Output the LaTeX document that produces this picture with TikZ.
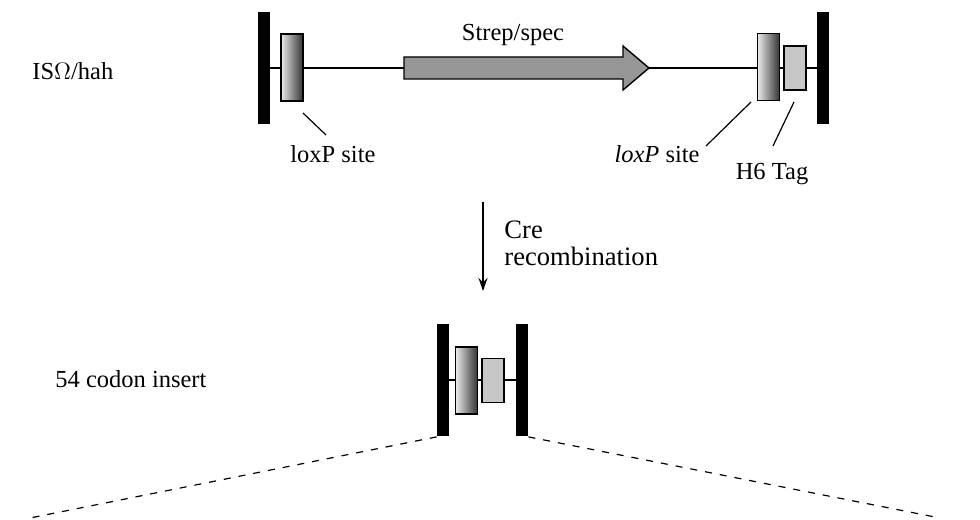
\documentclass[tikz,border=0pt]{standalone}
\usepackage{fontspec}
\setmainfont{Liberation Serif}
\usetikzlibrary{arrows.meta}
\begin{document}
\begin{tikzpicture}[x=0.5bp,y=-0.5bp,
  lbl/.style={inner sep=0pt,font=\fontsize{12.25bp}{14bp}\selectfont},
  biglbl/.style={inner sep=0pt,font=\fontsize{13.3bp}{15bp}\selectfont},
  endbar/.style={fill=black,draw=none,inner sep=0pt,minimum width=6bp,minimum height=56bp},
  loxbox/.style={draw=black,line width=0.7bp,inner sep=0pt,minimum width=11bp,minimum height=33.5bp,left color=black!8,right color=black!80},
  tagbox/.style={draw=black,line width=0.7bp,inner sep=0pt,minimum width=11bp,minimum height=22bp,fill=black!22},
  dna/.style={line width=1bp},
  leader/.style={line width=0.6bp},
  dsh/.style={line width=0.6bp,dash pattern=on 3.5bp off 4bp}]
\useasboundingbox (0,0) rectangle (980,520);
% top construct
\node[endbar] (lbar) at (264,68) {};
\node[endbar] (rbar) at (823,68) {};
\draw[dna] (lbar.center) -- (rbar.center);
\node[loxbox] (lox1) at (292,67.5) {};
\node[loxbox] (lox2) at (768.5,67) {};
\node[tagbox] (tag1) at (795,68) {};
\draw[line width=0.7bp,fill={rgb,255:red,150;green,150;blue,150}]
  (404,57) -- (623,57) -- (623,46) -- (649,68) -- (623,90) -- (623,79) -- (404,79) -- cycle;
\node[lbl,anchor=base] (strep) at (513,41) {Strep/spec};
\node[lbl,anchor=base west] (isname) at (32,80) {IS$\Omega$/hah};
\node[lbl,anchor=base west] (loxlbl1) at (290,163) {loxP site};
\node[lbl,anchor=base east] (loxlbl2) at (700,163) {\textit{loxP} site};
\node[lbl,anchor=base] (taglbl) at (772,180) {H6 Tag};
\coordinate (l1a) at (303,113); \coordinate (l1b) at (326,135);
\coordinate (l2a) at (751,102); \coordinate (l2b) at (706,146);
\coordinate (l3a) at (794,102); \coordinate (l3b) at (773,146);
\draw[leader] (l1a) -- (l1b);
\draw[leader] (l2a) -- (l2b);
\draw[leader] (l3a) -- (l3b);
% recombination arrow
\coordinate (arrtop) at (483,202);
\coordinate (arrbot) at (483,291);
\draw[line width=0.8bp,-{Stealth[length=6.5bp,width=4.5bp]}] (arrtop) -- (arrbot);
\node[biglbl,anchor=base west] (cre) at (504,239) {Cre};
\node[biglbl,anchor=base west] (recomb) at (504,266) {recombination};
% bottom construct
\node[lbl,anchor=base west] (insert) at (55,388) {54 codon insert};
\node[endbar] (blbar) at (443,380.5) {};
\node[endbar] (brbar) at (522,380.5) {};
\draw[dna] (blbar.center) -- (brbar.center);
\node[loxbox] (lox3) at (466.5,380.5) {};
\node[tagbox] (tag2) at (493,380.5) {};
% dashed expansion lines
\coordinate (dl) at (30,518);
\coordinate (dr) at (940,518);
\draw[dsh] (blbar.south west) -- (dl);
\draw[dsh] (brbar.south east) -- (dr);
\end{tikzpicture}
\end{document}
